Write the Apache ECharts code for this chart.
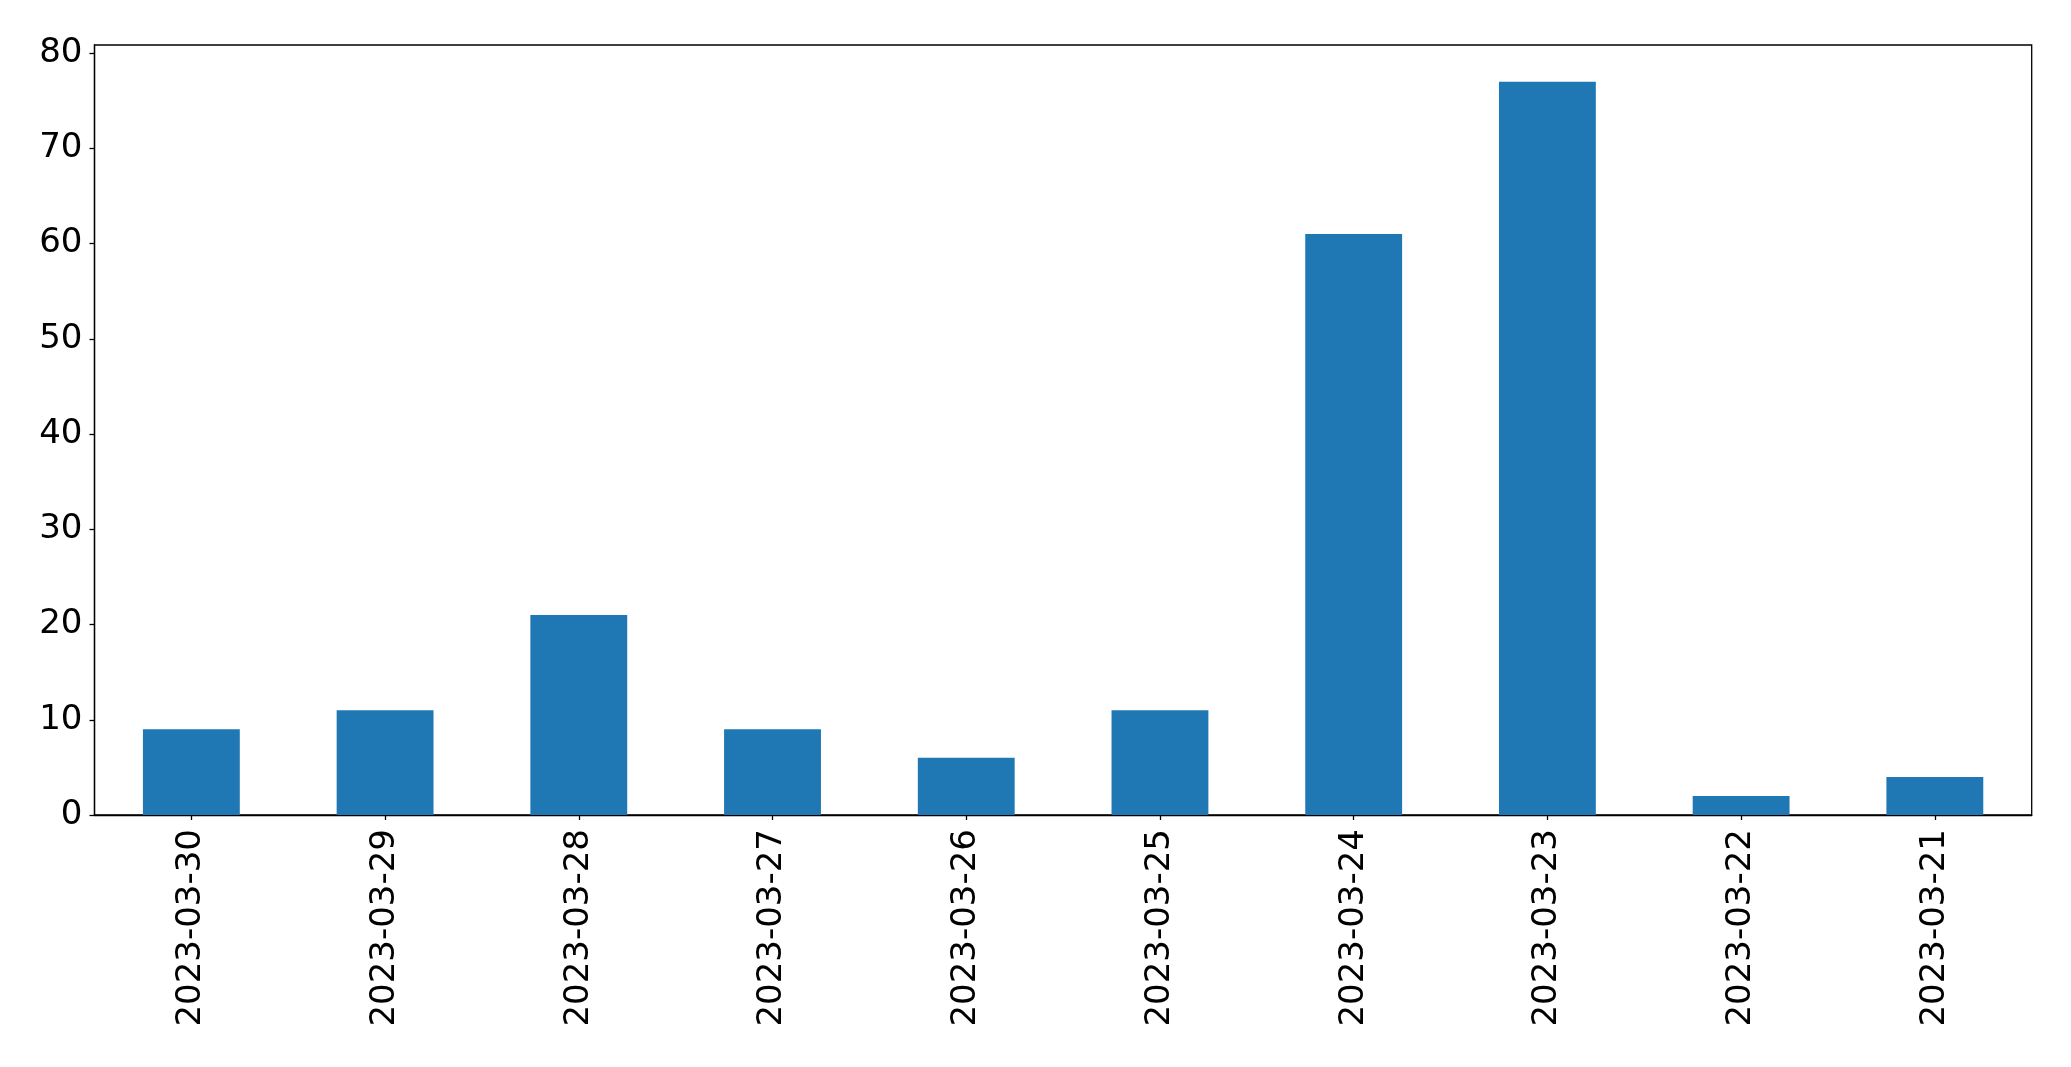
<!DOCTYPE html>
<html><head><meta charset="utf-8">
<script src="https://cdn.jsdelivr.net/npm/echarts@6/dist/echarts.min.js"></script>
<style>html,body{margin:0;padding:0;background:#fff}#c{width:2071px;height:1067px}</style>
</head><body><div id="c"></div>
<script>
const categories = ["2023-03-30","2023-03-29","2023-03-28","2023-03-27","2023-03-26","2023-03-25","2023-03-24","2023-03-23","2023-03-22","2023-03-21"];
const values = [9, 11, 21, 9, 6, 11, 61, 77, 2, 4];
const yTicks = [0, 10, 20, 30, 40, 50, 60, 70, 80];

const chart = echarts.init(document.getElementById('c'));
const font = 'DejaVu Sans';
chart.setOption({
  animation: false,
  grid: {left: 94.5, top: 45, right: 39.3, bottom: 252, show: true, borderColor: '#000', borderWidth: 1.3, backgroundColor: 'transparent'},
  xAxis: {
    type: 'category', data: categories,
    axisLine: {show: true, lineStyle: {color: '#000', width: 1.3}},
    axisTick: {show: true, alignWithLabel: true, length: 5, lineStyle: {color: '#000', width: 1.3}},
    axisLabel: {rotate: 90, color: '#000', fontFamily: font, fontSize: 34, margin: 14, interval: 0}
  },
  yAxis: {
    type: 'value', min: 0, max: 80.85,
    splitLine: {show: false},
    axisLine: {show: true, lineStyle: {color: '#000', width: 1.3}},
    axisTick: {show: true, length: 5, customValues: yTicks, lineStyle: {color: '#000', width: 1.3}},
    axisLabel: {color: '#000', fontFamily: font, fontSize: 34, margin: 12, customValues: yTicks}
  },
  series: [{type: 'bar', data: values, barWidth: '50%', itemStyle: {color: '#1f77b4'}}]
});
</script></body></html>
